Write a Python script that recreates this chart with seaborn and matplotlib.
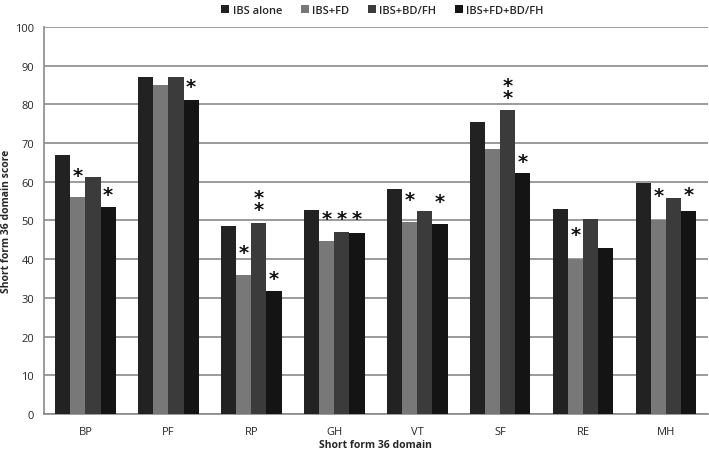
import numpy as np
import pandas as pd
import seaborn as sns
import matplotlib.pyplot as plt
from matplotlib.ticker import MultipleLocator, FixedLocator

domains = ["BP", "PF", "RP", "GH", "VT", "SF", "RE", "MH"]
groups = ["IBS alone", "IBS+FD", "IBS+BD/FH", "IBS+FD+BD/FH"]
ibs_alone = [67.0, 87.0, 48.7, 52.7, 58.2, 75.5, 53.0, 59.6]
ibs_fd = [56.0, 85.0, 36.0, 44.8, 49.7, 68.5, 40.0, 50.0]
ibs_bdfh = [61.3, 87.2, 49.4, 47.0, 52.4, 78.5, 50.5, 55.8]
ibs_fd_bdfh = [53.5, 81.2, 31.7, 46.7, 49.2, 62.2, 42.8, 52.5]
colors = ["#222222", "#787878", "#3b3b3b", "#141414"]

# significance markers: (domain, group index, text, y-position of marker)
markers = [
    ("BP", 1, "*", 62.6), ("BP", 3, "*", 57.7),
    ("PF", 3, "*", 85.7),
    ("RP", 1, "*", 42.8), ("RP", 2, "*\n*", 55.3), ("RP", 3, "*", 35.9),
    ("GH", 1, "*", 51.4), ("GH", 2, "*", 51.4), ("GH", 3, "*", 51.4),
    ("VT", 1, "*", 56.4), ("VT", 3, "*", 55.8),
    ("SF", 2, "*\n*", 84.4), ("SF", 3, "*", 66.3),
    ("RE", 1, "*", 47.4),
    ("MH", 1, "*", 57.5), ("MH", 3, "*", 57.8),
]

series = [ibs_alone, ibs_fd, ibs_bdfh, ibs_fd_bdfh]
rows = []
for g, vals in zip(groups, series):
    for d, v in zip(domains, vals):
        rows.append({"domain": d, "group": g, "score": v})
df = pd.DataFrame(rows)

sns.set_style("white")
plt.rcParams["font.family"] = ["Open Sans", "DejaVu Sans"]

fig = plt.figure(figsize=(7.09, 4.52), dpi=100)
ax = fig.add_axes([0.062, 0.082, 0.936, 0.856])

sns.barplot(data=df, x="domain", y="score", hue="group", order=domains,
            hue_order=groups, palette=colors, width=0.73, gap=0,
            saturation=1, errorbar=None, ax=ax, linewidth=0, zorder=3)

ax.set_ylim(0, 100)
ax.set_xlim(-0.5, len(domains) - 0.5)
ax.yaxis.set_major_locator(MultipleLocator(10))
ax.grid(axis="y", color="#8a8a8a", linewidth=1.2, zorder=0)
ax.set_axisbelow(True)
for s in ["top", "right"]:
    ax.spines[s].set_visible(False)
for s in ["left", "bottom"]:
    ax.spines[s].set_color("#8a8a8a")
    ax.spines[s].set_linewidth(1.2)

ax.tick_params(axis="y", which="major", length=4, color="#8a8a8a", labelsize=8, pad=3)
ax.tick_params(axis="x", which="major", length=0, labelsize=8, pad=9)
ax.xaxis.set_minor_locator(FixedLocator(np.arange(-0.5, len(domains), 1.0)))
ax.tick_params(axis="x", which="minor", length=5, color="#8a8a8a")

ax.set_xlabel("Short form 36 domain", fontsize=7.5, fontweight="bold", labelpad=1)
ax.set_ylabel("Short form 36 domain score", fontsize=7.5, fontweight="bold", labelpad=2)

for dom, gi, txt, yv in markers:
    bar = ax.containers[gi][domains.index(dom)]
    xc = bar.get_x() + bar.get_width() / 2
    ax.text(xc, yv - 1.0, txt, ha="center", va="center", fontsize=14, fontweight="bold",
            linespacing=0.55, color="#111111", family="DejaVu Sans")

leg = ax.legend(loc="center", bbox_to_anchor=(0.51, 1.042), ncol=4, frameon=False,
                fontsize=8, handlelength=0.7, handleheight=0.7, handletextpad=0.3,
                columnspacing=1.7, borderaxespad=0)
for t in leg.get_texts():
    t.set_fontweight("semibold")

fig.savefig("out.png", dpi=100)
